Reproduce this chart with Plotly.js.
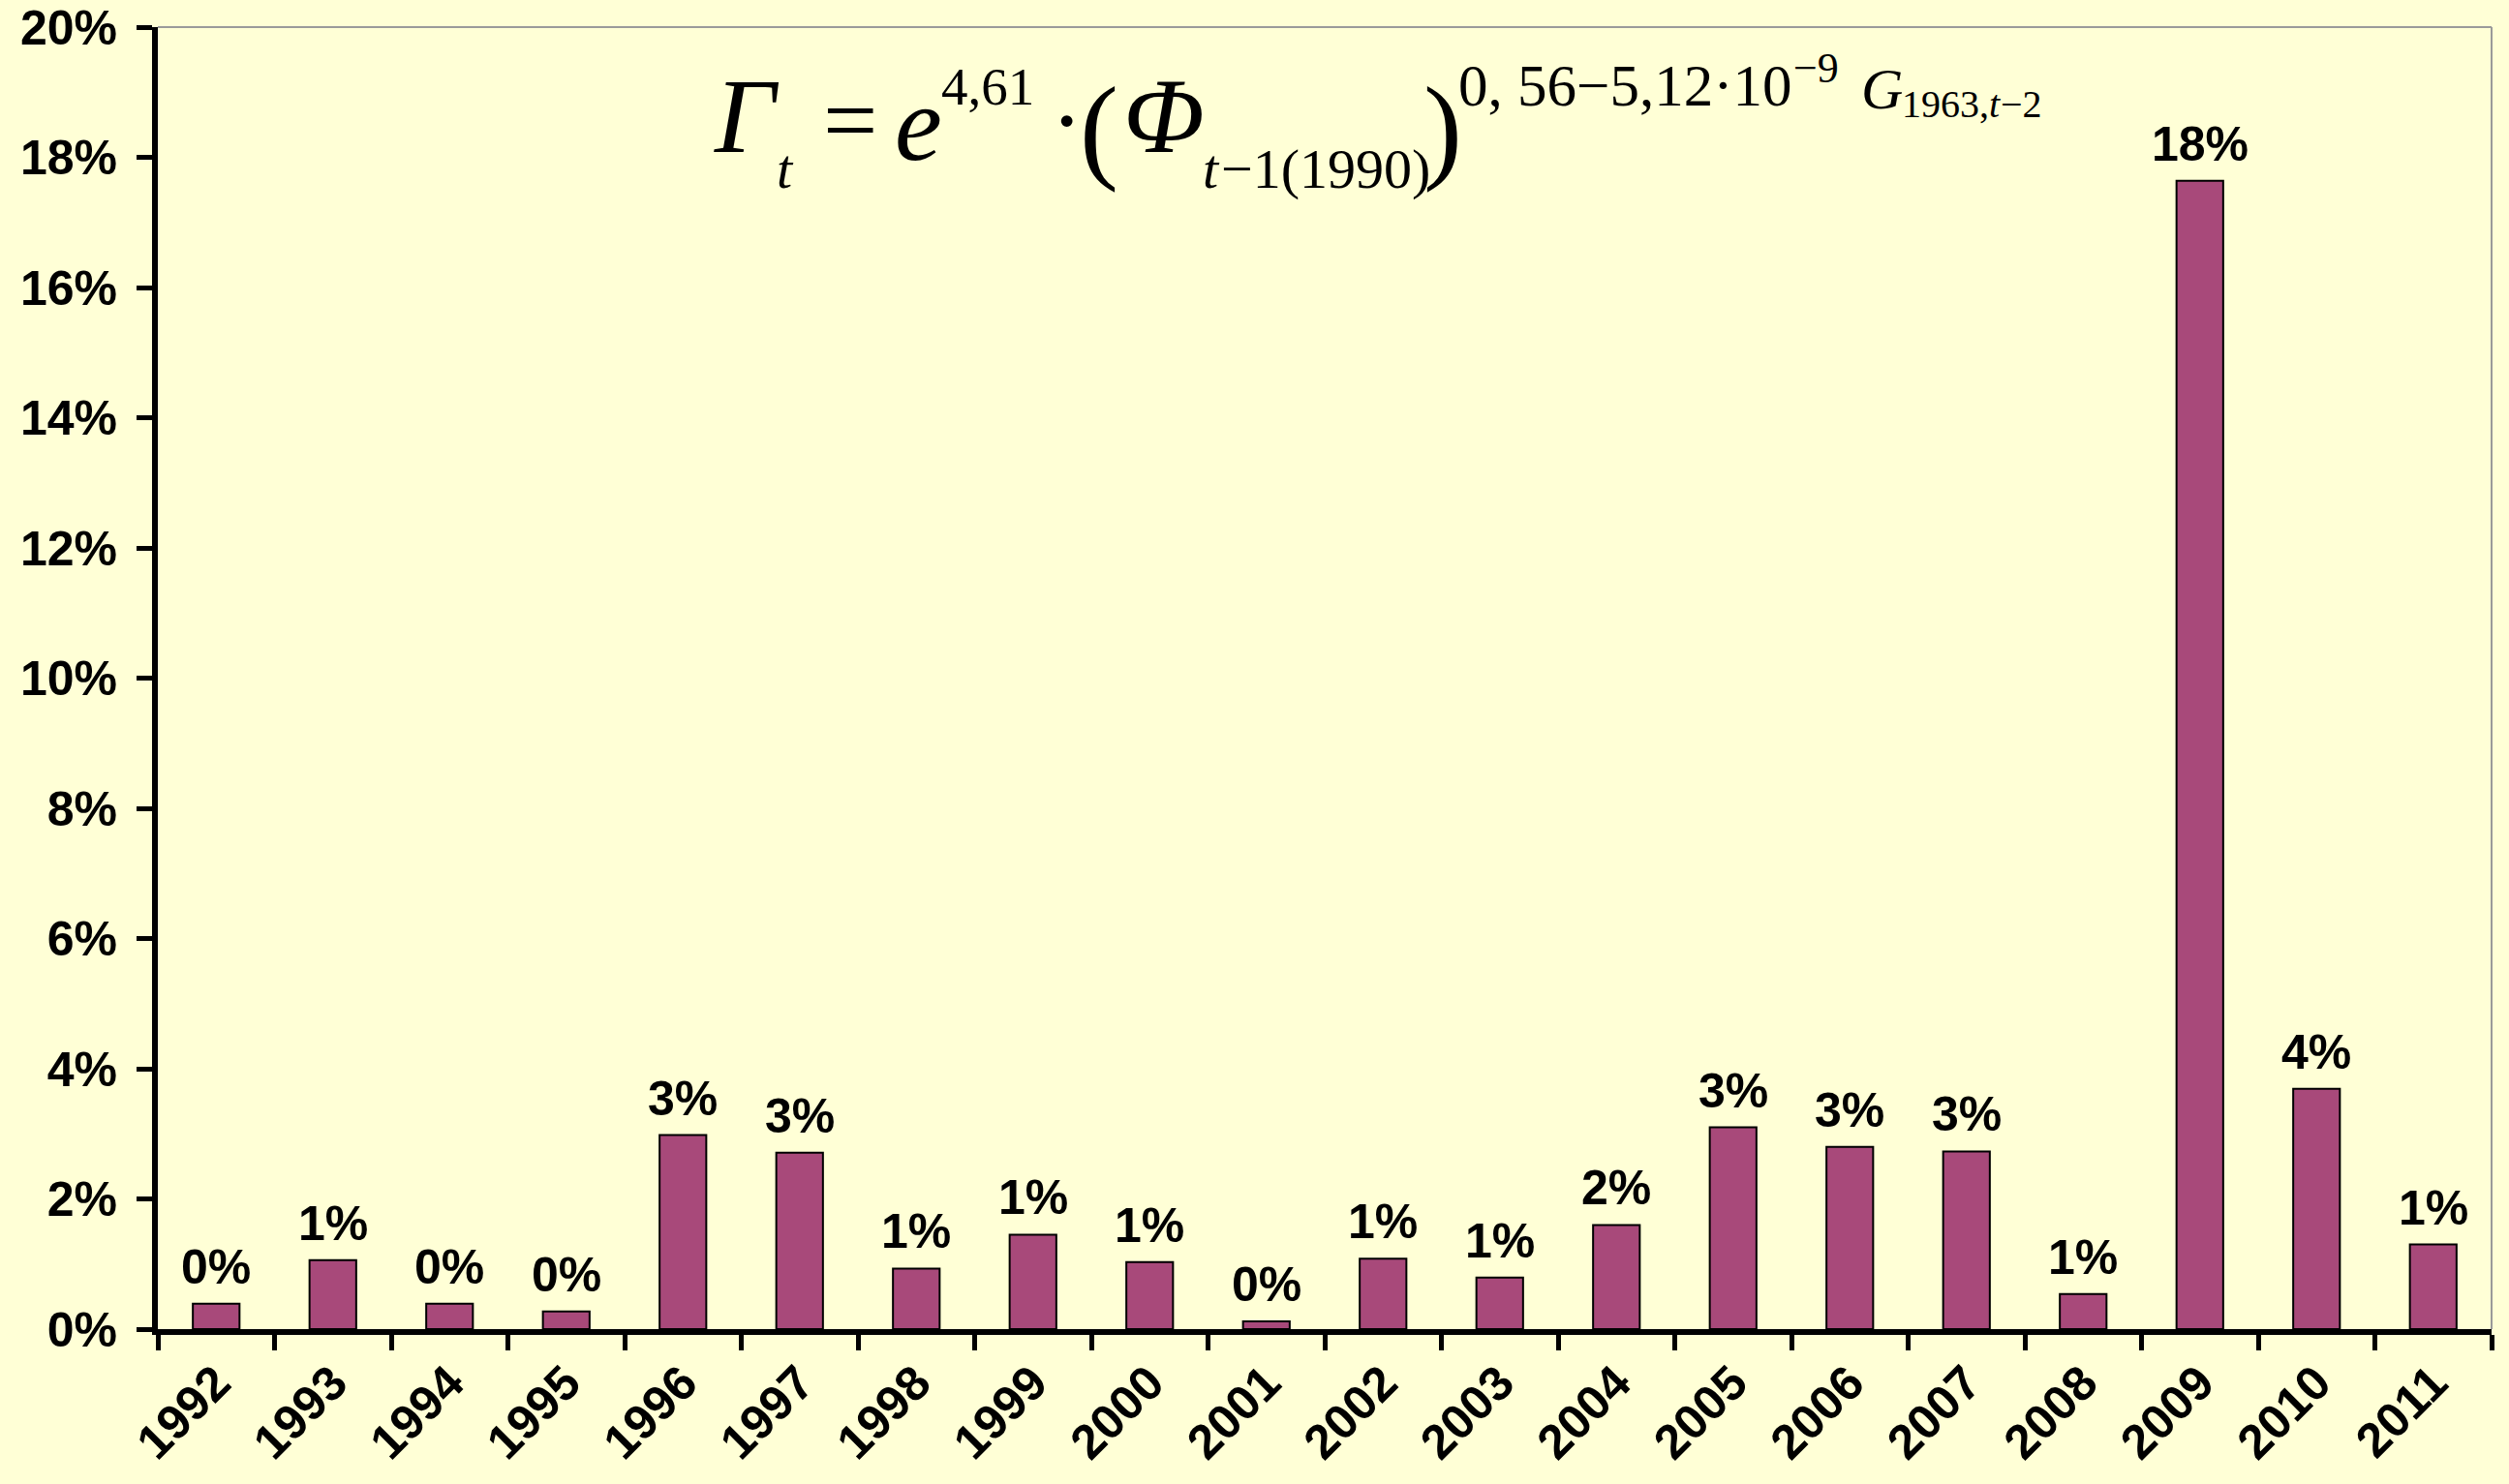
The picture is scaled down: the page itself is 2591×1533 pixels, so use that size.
<!DOCTYPE html>
<html>
<head>
<meta charset="utf-8">
<script src="https://cdn.plot.ly/plotly-3.0.1.min.js"></script>
<style>
html,body{margin:0;padding:0;background:#FFFFD6;}
#chart{width:2591px;height:1533px;}
</style>
</head>
<body>
<div id="chart"></div>
<script>
const years = ['1992','1993','1994','1995','1996','1997','1998','1999','2000','2001','2002','2003','2004','2005','2006','2007','2008','2009','2010','2011'];
const values = [0.0039,0.0106,0.0039,0.0027,0.0298,0.0271,0.0093,0.0145,0.0103,0.0012,0.0108,0.0079,0.0160,0.0310,0.0280,0.0273,0.0054,0.1764,0.0369,0.0130];
const yTicks = [0,0.02,0.04,0.06,0.08,0.10,0.12,0.14,0.16,0.18,0.20];

const W = 2591, H = 1533;
const M = {l:163, r:18, t:28, b:160};
const PW = W - M.l - M.r, PH = H - M.t - M.b;
function px(x){return (x - M.l)/PW;}
function py(y){return 1 - (y - M.t)/PH;}

const serif = 'Liberation Serif, Times New Roman, serif';
const sans = 'Liberation Sans, Arial, sans-serif';
// formula pieces: text, left x (px), vertical middle y (px), size, italic
const pieces = [
  ['Γ', 735, 120, 110, true],
  ['t', 800, 174, 58, true],
  ['=', 848, 125, 100, false],
  ['e', 922, 128, 110, true],
  ['4,61', 970, 90, 55, false],
  ['·', 1083, 125, 100, false],
  ['(', 1113, 132, 120, false],
  ['Φ', 1158, 120, 110, true],
  ['t', 1240, 174, 58, true],
  ['−1(1990)', 1259, 174, 58, false],
  [')', 1468, 132, 120, false],
  ['0, 56−5,12·10', 1504, 88, 61, false],
  ['−9', 1850, 70, 44, false],
  ['G', 1920, 92, 60, true],
  ['1963,', 1962, 108, 40, false],
  ['t', 2052, 108, 40, true],
  ['−2', 2064, 108, 40, false]
];
const annotations = pieces.map(p => ({
  text: p[0], x: px(p[1]), y: py(p[2]), xref:'paper', yref:'paper',
  xanchor:'left', yanchor:'middle', showarrow:false,
  font:{family:serif, size:p[3], color:'#000', style: p[4] ? 'italic' : 'normal'}
}));
// bar value labels, placed through the data scales (category index on x)
years.forEach((yr, i) => {
  annotations.push({
    text: Math.round(values[i]*100) + '%', x: i, y: values[i], xref:'x', yref:'y',
    xanchor:'center', yanchor:'bottom', yshift:8, showarrow:false,
    font:{family:sans, size:50, color:'#000', weight:'bold'}
  });
});

const trace = {
  type:'bar', x: years, y: values,
  marker:{color:'#A8497A', line:{color:'#000', width:2}},
  hoverinfo:'none'
};

const layout = {
  width:W, height:H,
  margin:M,
  paper_bgcolor:'#FFFFD6', plot_bgcolor:'#FFFFD6',
  bargap:0.6,
  showlegend:false,
  xaxis:{
    type:'category', showgrid:false, zeroline:false,
    range:[-0.5, years.length - 0.5],
    showline:true, linecolor:'#000', linewidth:6,
    ticks:'outside', tickson:'boundaries', ticklen:16, tickwidth:5, tickcolor:'#000',
    tickangle:-45,
    tickfont:{family:sans, size:50, color:'#000', weight:'bold'}
  },
  yaxis:{
    range:[0,0.2], tickvals:yTicks, tickformat:'.0%',
    showgrid:false, zeroline:false,
    showline:true, linecolor:'#000', linewidth:6,
    ticks:'outside', ticklen:16, tickwidth:5, tickcolor:'#000',
    ticklabelstandoff:10,
    tickfont:{family:sans, size:50, color:'#000', weight:'bold'}
  },
  shapes:[
    {type:'line', xref:'paper', yref:'paper', x0:0, x1:1, y0:1, y1:1, line:{color:'#9A9A9A', width:2}},
    {type:'line', xref:'paper', yref:'paper', x0:1, x1:1, y0:0, y1:1, line:{color:'#9A9A9A', width:2}}
  ],
  annotations: annotations
};

Plotly.newPlot('chart', [trace], layout, {displayModeBar:false, staticPlot:true});
</script>
</body>
</html>
